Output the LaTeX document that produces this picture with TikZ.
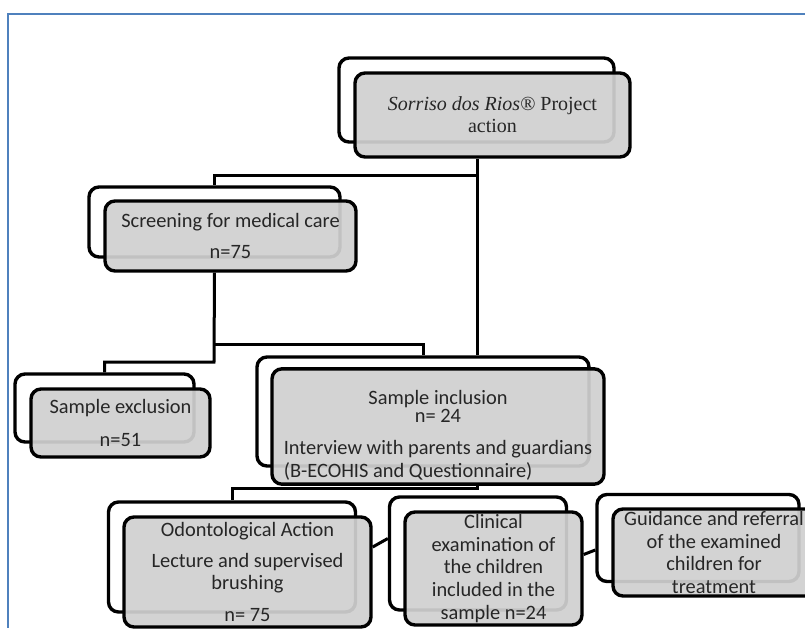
\documentclass[tikz,border=0pt]{standalone}
\usepackage{fontspec}
\setmainfont{Carlito}
\newfontfamily\serifbox{Liberation Serif}
\usepackage{tikz}
\definecolor{white}{rgb}{1.0, 1.0, 1.0}
\definecolor{black}{rgb}{0.0, 0.0, 0.0}
\definecolor{boxgray}{RGB}{208,208,208}
\definecolor{frameblue}{RGB}{79,129,189}
\usetikzlibrary{calc}
\pgfdeclarelayer{edgelayer}
\pgfdeclarelayer{backlayer}
\pgfdeclarelayer{nodelayer}
\pgfsetlayers{main,edgelayer,backlayer,nodelayer}
\tikzstyle{backbox}=[rectangle,rounded corners=5pt,draw=black,line width=1.7pt,fill=white,inner sep=0pt]
\tikzstyle{frontbox}=[backbox,fill=boxgray,fill opacity=0.93,text opacity=1,text=black!85,align=center,font=\fontsize{10.2}{11.3}\selectfont]
\tikzstyle{link}=[line width=1.5pt,black]

\begin{document}
\begin{tikzpicture}[x=0.5pt,y=-0.5pt]
        \useasboundingbox (0,0) rectangle (805,628);
        \fill[white] (0,0) rectangle (805,628);
        \draw[frameblue, line width=1.1pt] (805,14) -- (8,14) -- (8,628);

        \begin{pgfonlayer}{backlayer}
            \node [style = backbox, minimum width=137.5pt, minimum height=42pt] (topb) at (476.5,100) {};
            \node [style = backbox, minimum width=125.5pt, minimum height=35pt] (screenb) at (214.5,222) {};
            \node [style = backbox, minimum width=89.5pt, minimum height=34pt] (exclb) at (104.5,408) {};
            \node [style = backbox, minimum width=166pt, minimum height=54.5pt] (inclb) at (423,411.5) {};
            \node [style = backbox, minimum width=123.5pt, minimum height=55pt] (odontb) at (232,557) {};
            \node [style = backbox, minimum width=88.5pt, minimum height=56.5pt] (clinb) at (478,553.5) {};
            \node [style = backbox, minimum width=101pt, minimum height=43.5pt] (guideb) at (698,538) {};
        \end{pgfonlayer}

        \begin{pgfonlayer}{nodelayer}
            \node [style = frontbox, minimum width=137.5pt, minimum height=42pt, font=\serifbox\fontsize{10}{11}\selectfont] (top) at (492.5,115) {\textit{Sorriso dos Rios®} Project\\action};
            \node [style = frontbox, minimum width=125.5pt, minimum height=35pt] (screen) at (230.5,236) {Screening for medical care\\[4.2pt]n=75};
            \node [style = frontbox, minimum width=89.5pt, minimum height=34pt] (excl) at (120.5,423) {Sample exclusion\\[5.2pt]n=51};
            \node [style = frontbox, minimum width=166pt, minimum height=54.5pt] (incl) at (438,426.5) {\rule{0pt}{18pt}Sample inclusion\\[-2.3pt]n= 24\\[4.7pt]\begin{tabular}[t]{@{}l@{}}Interview with parents and guardians\\(B-ECOHIS and Questionnaire)\end{tabular}};
            \node [style = frontbox, minimum width=123.5pt, minimum height=55pt] (odont) at (247.5,572) {Odontological Action\\[4.2pt]Lecture and supervised\\brushing\\[4.7pt]n= 75};
            \node [style = frontbox, minimum width=88.5pt, minimum height=56.5pt] (clin) at (493.5,568.5) {Clinical\\examination of\\the children\\included in the\\sample n=24};
            \node [style = frontbox, minimum width=101pt, minimum height=43.5pt] (guide) at (714,552.5) {Guidance and referral\\of the examined\\children for\\treatment};
        \end{pgfonlayer}

        \begin{pgfonlayer}{edgelayer}
            \coordinate (j1) at (477,175);
            \coordinate (j2) at (214,344);
            \coordinate (j3) at (214,362);
            \coordinate (j4) at (477,488);
            \draw [style = link] (j1 |- top.south) -- (j1 |- inclb.north);
            \draw [style = link] (j1) -| (screenb.north);
            \draw [style = link] (screenb.north |- screen.south) -- (j3) -| (exclb.north);
            \draw [style = link] (j2) -| (inclb.north);
            \draw [style = link] (j4 |- incl.south) -- (j4) -| (odontb.north);
            \draw [style = link] ($(odont.east)+(0,-25)$) -- ($(clinb.west)+(0,-15)$);
            \draw [style = link] ($(clin.east)+(0,-14)$) -- ($(guideb.west)+(0,12)$);
        \end{pgfonlayer}
    \end{tikzpicture}
\end{document}
